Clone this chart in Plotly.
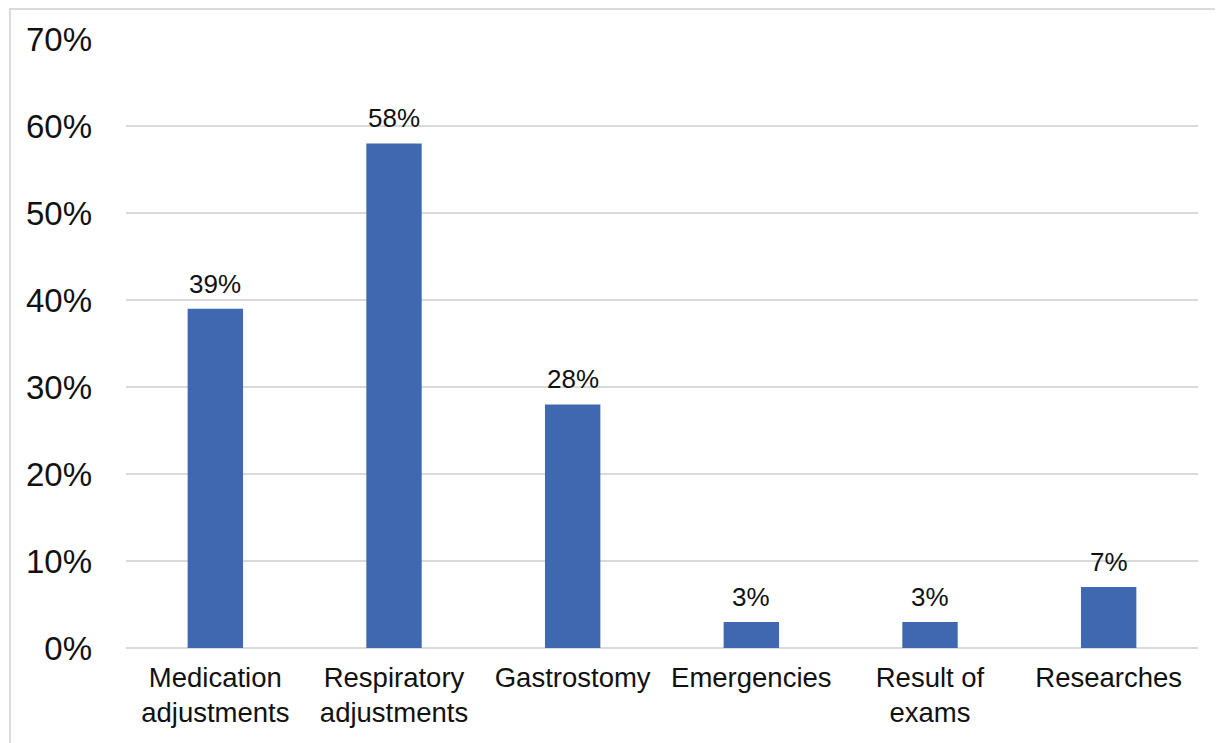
import plotly.graph_objects as go

categories = ["Medication<br>adjustments", "Respiratory<br>adjustments", "Gastrostomy",
              "Emergencies", "Result of<br>exams", "Researches"]
values = [0.39, 0.58, 0.28, 0.03, 0.03, 0.07]
y_ticks = [0, 0.1, 0.2, 0.3, 0.4, 0.5, 0.6, 0.7]

W, H = 1223, 743
ml, mt = 118, 31
pw, ph = 1072, 609
mr, mb = W - ml - pw, H - mt - ph

fig = go.Figure(go.Bar(
    x=categories, y=values,
    marker=dict(color="#3F68B1", line=dict(width=0)),
    cliponaxis=False,
))

for c, v in zip(categories, values):
    fig.add_annotation(x=c, y=v, text=f"{round(v * 100)}%", showarrow=False,
                       yanchor="middle", yshift=25,
                       font=dict(size=26, color="#111111"))

fig.update_layout(
    width=W, height=H,
    margin=dict(l=ml, r=mr, t=mt, b=mb, autoexpand=False),
    paper_bgcolor="white", plot_bgcolor="white",
    font=dict(family="Liberation Sans, Arial, sans-serif", color="#111111"),
    bargap=0.69,
    showlegend=False,
    xaxis=dict(showgrid=False, showline=False, ticks="", tickfont=dict(size=27.5),
               ticklabelstandoff=10),
    yaxis=dict(range=[0, 0.7], tickvals=y_ticks, tickformat=".0%",
               showgrid=True, gridcolor="#D9D9D9", gridwidth=1.5,
               zeroline=True, zerolinecolor="#D9D9D9", zerolinewidth=1.5,
               showline=False, ticks="", tickfont=dict(size=33),
               ticklabelstandoff=33),
    shapes=[dict(type="rect", xref="paper", yref="paper",
                 x0=(2 - ml) / pw, x1=(W + 20 - ml) / pw,
                 y0=-(mb + 30) / ph, y1=(ph + mt - 1) / ph,
                 line=dict(color="#D0D0D0", width=1.5), layer="below")],
)

fig.write_html("out.html")
